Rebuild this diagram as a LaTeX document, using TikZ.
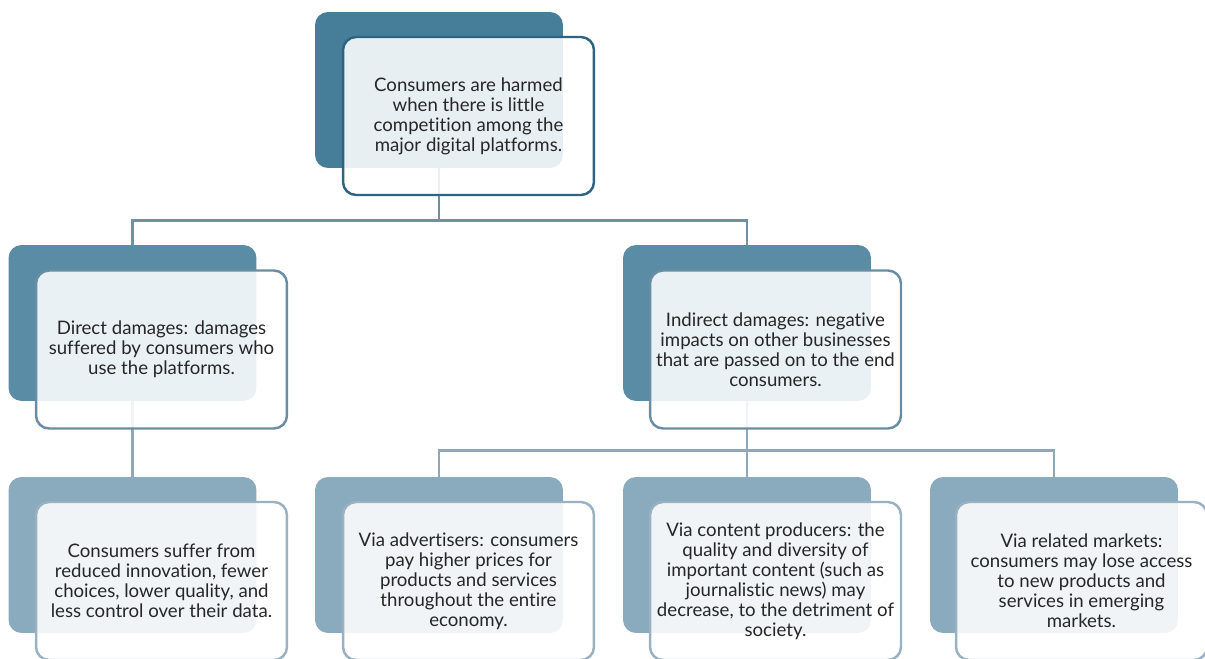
\documentclass[tikz,border=0pt]{standalone}
\usepackage{fontspec}
\setmainfont{Lato}[Ligatures=NoCommon]
\usetikzlibrary{backgrounds}

\definecolor{tealA}{HTML}{467E9A}
\definecolor{tealB}{HTML}{5A8CA6}
\definecolor{tealC}{HTML}{89ABBD}
\definecolor{edgeA}{HTML}{2D6580}
\definecolor{edgeB}{HTML}{6A8DA3}
\definecolor{edgeC}{HTML}{9AB1C1}
\definecolor{linkA}{HTML}{6F91A8}
\definecolor{linkB}{HTML}{8EA8BA}
\definecolor{txt}{HTML}{262626}

\tikzset{
  backbox/.style={rounded corners=0.26cm, minimum width=4.96cm, minimum height=3.12cm, inner sep=0pt, draw=none, fill=#1},
  frontbox/.style={rounded corners=0.26cm, minimum width=5.02cm, minimum height=3.16cm, inner sep=0pt,
    draw=#1, line width=1.4pt, fill=white, fill opacity=0.88, text opacity=1, text=txt,
    align=center, font=\fontsize{10.6}{11.4}\selectfont},
  link/.style={draw=#1, line width=1.5pt}
}

\begin{document}
\begin{tikzpicture}[x=0.02cm, y=0.02cm]
            \useasboundingbox (0,0) rectangle (1205,-659);
            \clip (0,0) rectangle (1205,-659);

            % top level
            \node[backbox=tealA] (harm) at (439,-90) {};
            \node[frontbox=edgeA] (harmtxt) at (468.5,-116) {Consumers are harmed\\when there is little\\competition among the\\major digital platforms.};

            % second level
            \node[backbox=tealB] (direct) at (132.5,-323) {};
            \node[frontbox=edgeB] (directtxt) at (161.5,-349.5) {Direct damages: damages\\suffered by consumers who\\use the platforms.};
            \node[backbox=tealB] (indirect) at (747,-323) {};
            \node[frontbox=edgeB] (indirecttxt) at (775.5,-349.5) {Indirect damages: negative\\impacts on other businesses\\that are passed on to the end\\consumers.};

            % third level
            \node[backbox=tealC] (suffer) at (132.5,-555) {};
            \node[frontbox=edgeC] (suffertxt) at (161.5,-581) {Consumers suffer from\\reduced innovation, fewer\\choices, lower quality, and\\less control over their data.};
            \node[backbox=tealC] (advert) at (439,-555) {};
            \node[frontbox=edgeC] (adverttxt) at (468.5,-581) {Via advertisers: consumers\\pay higher prices for\\products and services\\throughout the entire\\economy.};
            \node[backbox=tealC] (content) at (747,-555) {};
            \node[frontbox=edgeC] (contenttxt) at (775.5,-581) {Via content producers: the\\quality and diversity of\\important content (such as\\journalistic news) may\\decrease, to the detriment of\\society.};
            \node[backbox=tealC] (markets) at (1054,-555) {};
            \node[frontbox=edgeC] (marketstxt) at (1081.5,-581) {Via related markets:\\consumers may lose access\\to new products and\\services in emerging\\markets.};

            % connectors sit behind the boxes
            \begin{pgfonlayer}{background}
            \draw[link=linkA] (harm.south) -- ++(0,-52) -| (direct.north);
            \draw[link=linkA] (harm.south) -- ++(0,-52) -| (indirect.north);
            \draw[link=linkB] (direct.south) -- (suffer.north);
            \draw[link=linkB] (indirect.south) -- ++(0,-49) -| (advert.north);
            \draw[link=linkB] (indirect.south) -- (content.north);
            \draw[link=linkB] (indirect.south) -- ++(0,-49) -| (markets.north);
            \end{pgfonlayer}
        \end{tikzpicture}
\end{document}
